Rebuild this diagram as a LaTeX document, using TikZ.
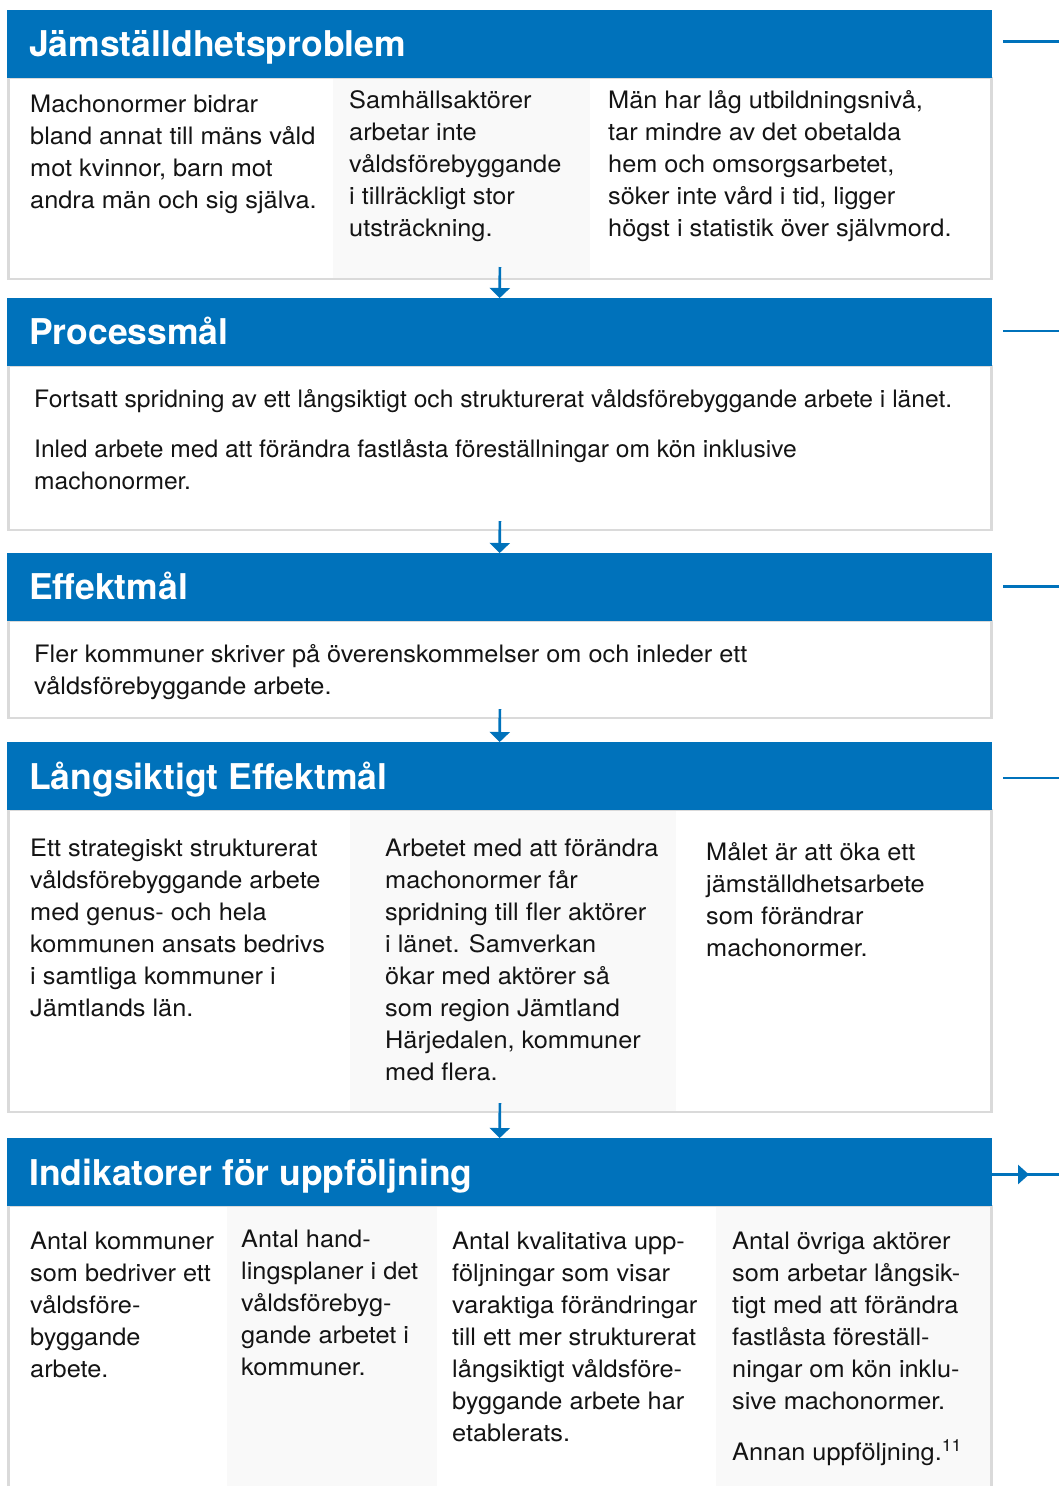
\documentclass[tikz,border=0pt]{standalone}
\usepackage{fontspec}
\setmainfont{TeX Gyre Heros}
\newfontfamily\bodyfont[FakeStretch=1.055]{TeX Gyre Heros}
\newfontfamily\narrowbody[FakeStretch=1.025]{TeX Gyre Heros}
\usetikzlibrary{arrows.meta}
\definecolor{hblue}{RGB}{0,114,187}
\definecolor{bord}{RGB}{218,218,218}
\definecolor{colgray}{RGB}{249,249,249}
\definecolor{txtc}{RGB}{20,20,20}
\newcommand{\fs}{\rule{0pt}{20pt}}
\tikzset{
  hdrbox/.style={fill=hblue, draw=none, inner sep=0, minimum width=985pt, minimum height=68pt, anchor=north west},
  hdrtxt/.style={anchor=base west, inner sep=0, text=white, font=\bfseries\fontsize{35.5}{40}\selectfont},
  bodybox/.style={draw=bord, line width=2.6pt, fill=white, inner sep=0, outer sep=0, anchor=north west, minimum width=983.2pt},
  txt/.style={anchor=north west, inner sep=0, align=left, text=txtc, font=\bodyfont\fontsize{24}{32}\selectfont},
  ntxt/.style={txt, font=\narrowbody\fontsize{24}{32}\selectfont},
  flow/.style={draw=hblue, line width=2.7pt, -{Triangle[width=20pt,length=10pt]}},
  side/.style={draw=hblue, line width=2.8pt},
}
\begin{document}
\begin{tikzpicture}[x=1pt,y=-1pt]
\useasboundingbox (0,0) rectangle (1059,1486);
% ---------- Section 1
\node[bodybox, minimum height=201pt] (b1) at (8.3,78) {};
\fill[colgray] (333,79) rectangle (590,278);
\node[hdrbox] (h1) at (7,10) {};
\node[hdrtxt] (t1) at (29,56) {Jämställdhetsproblem};
\node[txt] (c11) at (30,92) {\fs Machonormer bidrar\\bland annat till mäns våld\\mot kvinnor, barn mot\\andra män och sig själva.};
\node[txt] (c12) at (349,88) {\fs Samhällsaktörer\\arbetar inte\\våldsförebyggande\\i tillräckligt stor\\utsträckning.};
\node[txt] (c13) at (608,88) {\fs Män har låg utbildningsnivå,\\tar mindre av det obetalda\\hem och omsorgsarbetet,\\söker inte vård i tid, ligger\\högst i statistik över självmord.};
% ---------- Section 2
\node[bodybox, minimum height=164pt] (b2) at (8.3,366) {};
\node[hdrbox] (h2) at (7,298) {};
\node[hdrtxt] (t2) at (29,344) {Processmål};
\node[ntxt] (c21) at (34,387) {\fs Fortsatt spridning av ett långsiktigt och strukturerat våldsförebyggande arbete i länet.};
\node[ntxt] (c22) at (34,437) {\fs Inled arbete med att förändra fastlåsta föreställningar om kön inklusive\\machonormer.};
% ---------- Section 3
\node[bodybox, minimum height=97pt] (b3) at (8.3,621) {};
\node[hdrbox] (h3) at (7,553) {};
\node[hdrtxt] (t3) at (29,599) {Effektmål};
\node[txt] (c31) at (34,642) {\fs Fler kommuner skriver på överenskommelser om och inleder ett\\våldsförebyggande arbete.};
% ---------- Section 4
\node[bodybox, minimum height=302pt] (b4) at (8.3,810) {};
\fill[colgray] (350,811) rectangle (676,1111);
\node[hdrbox] (h4) at (7,742) {};
\node[hdrtxt] (t4) at (29,789) {Långsiktigt Effektmål};
\node[txt] (c41) at (30,836) {\fs Ett strategiskt strukturerat\\våldsförebyggande arbete\\med genus- och hela\\kommunen ansats bedrivs\\i samtliga kommuner i\\Jämtlands län.};
\node[txt] (c42) at (385,836) {\fs Arbetet med att förändra\\machonormer får\\spridning till fler aktörer\\i länet. Samverkan\\ökar med aktörer så\\som region Jämtland\\Härjedalen, kommuner\\med flera.};
\node[txt] (c43) at (706,840) {\fs Målet är att öka ett\\jämställdhetsarbete\\som förändrar\\machonormer.};
% ---------- Section 5
\node[bodybox, minimum height=300pt] (b5) at (8.3,1206) {};
\fill[colgray] (227,1207) rectangle (437,1500);
\fill[colgray] (716,1207) rectangle (990,1500);
\node[hdrbox] (h5) at (7,1138) {};
\node[hdrtxt] (t5) at (29,1185) {Indikatorer för uppföljning};
\node[txt] (c51) at (30,1229) {\fs Antal kommuner\\som bedriver ett\\våldsföre-\\byggande\\arbete.};
\node[txt] (c52) at (241,1227) {\fs Antal hand-\\lingsplaner i det\\våldsförebyg-\\gande arbetet i\\kommuner.};
\node[txt] (c53) at (452,1229) {\fs Antal kvalitativa upp-\\följningar som visar\\varaktiga förändringar\\till ett mer strukturerat\\långsiktigt våldsföre-\\byggande arbete har\\etablerats.};
\node[txt] (c54) at (732,1229) {\fs Antal övriga aktörer\\som arbetar långsik-\\tigt med att förändra\\fastlåsta föreställ-\\ningar om kön inklu-\\sive machonormer.};
\node[txt] (c55) at (732,1439) {\fs Annan uppföljning.\textsuperscript{11}};
% ---------- flow arrows
\draw[flow] ([yshift=12pt]b1.south) -- (h2.north);
\draw[flow] ([yshift=9pt]b2.south) -- (h3.north);
\draw[flow] ([yshift=9pt]b3.south) -- (h4.north);
\draw[flow] ([yshift=9pt]b4.south) -- (h5.north);
% ---------- side lines
\coordinate (e1) at (1059,41.5);
\coordinate (e2) at (1059,331);
\coordinate (e3) at (1059,586.5);
\coordinate (e4) at (1059,778);
\coordinate (e5) at (1059,1174.5);
\draw[side] (1003,41.5) -- (e1);
\draw[side] (1003,331) -- (e2);
\draw[side] (1003,586.5) -- (e3);
\draw[side] (1003,778) -- (e4);
\coordinate (m5) at (1029,1174.5);
\draw[side] (h5.east |- e5) -- (e5);
\draw[side, -{Triangle[width=19pt,length=11pt]}] (h5.east |- e5) -- (m5);
\end{tikzpicture}
\end{document}
